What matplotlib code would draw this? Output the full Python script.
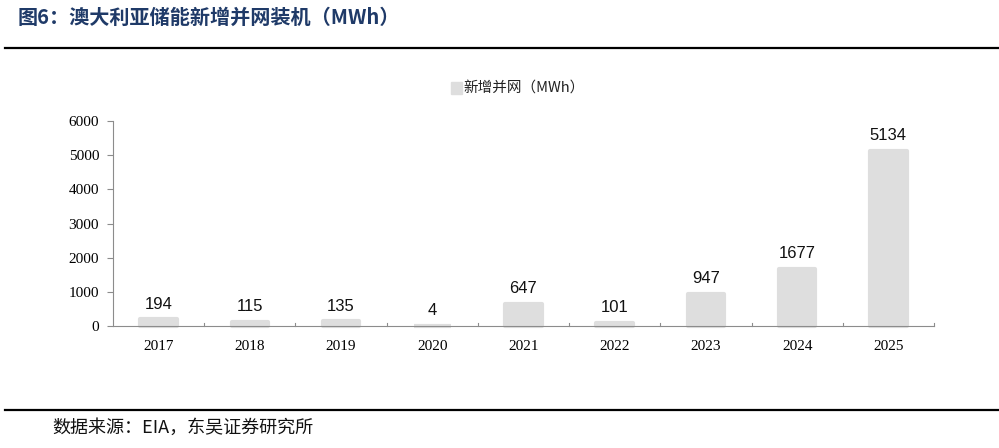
import matplotlib
matplotlib.use("Agg")
import matplotlib.pyplot as plt
from matplotlib.patches import Rectangle
from matplotlib.lines import Line2D

years = ["2017", "2018", "2019", "2020", "2021", "2022", "2023", "2024", "2025"]
new_grid_mwh = [194, 115, 135, 4, 647, 101, 947, 1677, 5134]
y_ticks = [0, 1000, 2000, 3000, 4000, 5000, 6000]

title_text = "图6：澳大利亚储能新增并网装机（MWh）"
legend_text = "新增并网（MWh）"
source_text = "数据来源：EIA，东吴证券研究所"

cjk = ["Noto Sans CJK SC", "DejaVu Sans"]
bar_color = "#DEDEDE"
axis_color = "#8C8C8C"

fig = plt.figure(figsize=(9.99, 4.48), dpi=100)
ax = fig.add_axes([113 / 999, 122 / 448, (934 - 113) / 999, 205 / 448])

x = list(range(len(years)))
# thick edge in the bar colour gives the soft rounded look and lets the
# bars poke a little below the axis line like in the original
bars = ax.bar(x, new_grid_mwh, width=0.40, color=bar_color,
              edgecolor=bar_color, linewidth=3, joinstyle="round",
              zorder=2, clip_on=False)
for b, v in zip(bars, new_grid_mwh):
    ax.text(b.get_x() + b.get_width() / 2, v + 230, str(v),
            ha="center", va="bottom", fontsize=12,
            family="Liberation Sans", color="#111111")

ax.set_xlim(-0.5, len(years) - 0.5)
ax.set_ylim(0, 6000)
ax.set_yticks(y_ticks)
ax.set_yticklabels([str(t) for t in y_ticks], family="Liberation Serif", fontsize=11)
ax.set_xticks(x)
ax.set_xticklabels(years, family="Liberation Serif", fontsize=11)
ax.tick_params(axis="x", length=0, pad=10)
ax.tick_params(axis="y", length=4, color=axis_color, pad=6)
# tick marks between categories, pointing up
for b in [i + 0.5 for i in x]:
    ax.plot([b, b], [0, 90], color=axis_color, lw=0.8, zorder=3, clip_on=False)

for s in ["top", "right"]:
    ax.spines[s].set_visible(False)
ax.spines["left"].set_color(axis_color)
ax.spines["bottom"].set_color(axis_color)
ax.spines["bottom"].set_zorder(3)

# legend
fig.patches.append(Rectangle((451 / 999, 1 - 94 / 448), 11 / 999, 12 / 448,
                             transform=fig.transFigure, color=bar_color))
fig.text(463 / 999, 1 - 88 / 448, legend_text, family=cjk, fontsize=10.5,
         va="center", ha="left", color="#222222")

# title, rules and source
fig.text(18 / 999, 1 - 17 / 448, title_text, family=cjk, fontsize=14.5,
         fontweight="bold", color="#1F3A68", va="center", ha="left")
fig.add_artist(Line2D([5 / 999, 1], [1 - 48 / 448, 1 - 48 / 448],
                      transform=fig.transFigure, color="black", lw=1.6))
fig.add_artist(Line2D([5 / 999, 1], [1 - 410 / 448, 1 - 410 / 448],
                      transform=fig.transFigure, color="black", lw=1.6))
fig.text(52 / 999, 1 - 428 / 448, source_text, family=cjk, fontsize=13,
         va="center", ha="left", color="#111111")

fig.savefig("out.png", dpi=100)
